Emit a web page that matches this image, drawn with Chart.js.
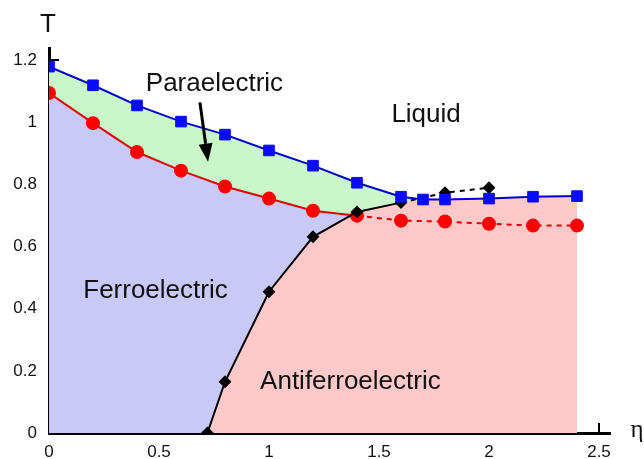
<!DOCTYPE html>
<html>
<head>
<meta charset="utf-8">
<script src="https://cdn.jsdelivr.net/npm/chart.js@4"></script>
<style>
  html, body { margin: 0; padding: 0; background: #fff; }
  #wrap { width: 644px; height: 459px; }
</style>
</head>
<body>
<div id="wrap"><canvas id="myChart" width="644" height="459"></canvas></div>
<script>
// liquid / paraelectric boundary (blue squares)
const etaBlue = [0, 0.2, 0.4, 0.6, 0.8, 1.0, 1.2, 1.4, 1.6, 1.7, 1.8, 2.0, 2.2, 2.4];
const tBlue = [1.18, 1.12, 1.055, 1.003, 0.961, 0.91, 0.861, 0.806, 0.761, 0.752, 0.752, 0.755, 0.761, 0.763];

// ferroelectric boundary (red circles), dashed past 1.4
const etaRed = [0, 0.2, 0.4, 0.6, 0.8, 1.0, 1.2, 1.4, 1.6, 1.8, 2.0, 2.2, 2.4];
const tRed = [1.095, 0.998, 0.905, 0.845, 0.794, 0.755, 0.716, 0.70, 0.684, 0.681, 0.674, 0.668, 0.668];

// ferro / antiferro boundary (black diamonds), dashed past 1.6
const etaBlack = [0.72, 0.8, 1.0, 1.2, 1.4, 1.6, 1.8, 2.0];
const tBlack = [0, 0.165, 0.455, 0.632, 0.712, 0.742, 0.774, 0.79];

const xTickLabels = ['0', '0.5', '1', '1.5', '2', '2.5'];
const yTickLabels = ['0', '0.2', '0.4', '0.6', '0.8', '1', '1.2'];

const regionNames = ['Paraelectric', 'Liquid', 'Ferroelectric', 'Antiferroelectric'];

const pts = (xs, ys) => xs.map((x, i) => ({ x: x, y: ys[i] }));

// filled regions built from the boundaries above
const redSolidEnd = etaRed.indexOf(1.4) + 1;
const blackSolidEnd = etaBlack.indexOf(1.6) + 1;
const blueAfter = etaBlue.indexOf(1.7);
const pinkArea = pts(etaBlack.slice(0, blackSolidEnd), tBlack.slice(0, blackSolidEnd))
  .concat(pts(etaBlue.slice(blueAfter), tBlue.slice(blueAfter)));
const purpleArea = pts(etaRed.slice(0, redSolidEnd), tRed.slice(0, redSolidEnd));
const greenArea = pts(etaBlue, tBlue);

const dashAfter = (limit) => ({
  borderDash: ctx => ctx.p0.parsed.x >= limit - 1e-9 ? [5, 5] : undefined
});

const fillSet = (data, color) => ({
  data: data,
  fill: 'origin',
  backgroundColor: color,
  borderWidth: 0,
  pointRadius: 0,
  tension: 0
});

const textPlugin = {
  id: 'textPlugin',
  afterDatasetsDraw(chart) {
    const { ctx, chartArea, scales: { x, y } } = chart;
    ctx.save();
    ctx.fillStyle = '#111';
    ctx.textAlign = 'center';
    ctx.textBaseline = 'alphabetic';
    ctx.font = '26px "Liberation Sans", Arial, sans-serif';
    const anchors = [[0.752, 1.103], [1.714, 1.003], [0.484, 0.435], [1.37, 0.142]];
    regionNames.forEach((name, i) => {
      ctx.fillText(name, x.getPixelForValue(anchors[i][0]), y.getPixelForValue(anchors[i][1]));
    });

    // axis names
    ctx.fillText('T', chartArea.left - 1, 32);
    ctx.font = '25px "Liberation Serif", "Times New Roman", serif';
    ctx.fillText('η', chartArea.right + 27, chartArea.bottom + 4);

    // arrow pointing into the paraelectric band
    const x0 = x.getPixelForValue(0.686), y0 = y.getPixelForValue(1.065);
    const x1 = x.getPixelForValue(0.723), y1 = y.getPixelForValue(0.874);
    const ang = Math.atan2(y1 - y0, x1 - x0);
    const head = 18, half = 7;
    const bx = x1 - head * Math.cos(ang), by = y1 - head * Math.sin(ang);
    ctx.strokeStyle = '#000';
    ctx.lineWidth = 3;
    ctx.beginPath();
    ctx.moveTo(x0, y0);
    ctx.lineTo(bx, by);
    ctx.stroke();
    ctx.fillStyle = '#000';
    ctx.beginPath();
    ctx.moveTo(x1, y1);
    ctx.lineTo(bx + half * Math.sin(ang), by - half * Math.cos(ang));
    ctx.lineTo(bx - half * Math.sin(ang), by + half * Math.cos(ang));
    ctx.closePath();
    ctx.fill();
    ctx.restore();
  }
};

const ctx = document.getElementById('myChart').getContext('2d');
const myChart = new Chart(ctx, {
  type: 'line',
  data: {
    datasets: [
      {
        data: pts(etaBlue, tBlue),
        borderColor: '#0000cc',
        borderWidth: 2,
        pointStyle: 'rect',
        pointRadius: 7.5,
        pointBackgroundColor: '#0a0aff',
        pointBorderColor: '#0a0aff',
        pointBorderWidth: 1,
        fill: false,
        tension: 0
      },
      {
        data: pts(etaBlack, tBlack),
        borderColor: '#000',
        borderWidth: 2,
        pointStyle: 'rectRot',
        pointRadius: 5,
        pointBackgroundColor: '#000',
        pointBorderColor: '#000',
        fill: false,
        tension: 0,
        segment: dashAfter(1.6)
      },
      {
        data: pts(etaRed, tRed),
        borderColor: '#e00000',
        borderWidth: 2,
        pointStyle: 'circle',
        pointRadius: 6,
        pointBackgroundColor: '#ff0000',
        pointBorderColor: '#ff0000',
        fill: false,
        tension: 0,
        segment: dashAfter(1.4)
      },
      fillSet(pinkArea, '#ffc9c9'),
      fillSet(purpleArea, '#c9c9f8'),
      fillSet(greenArea, '#c9f7c9')
    ]
  },
  options: {
    responsive: false,
    animation: false,
    events: [],
    layout: { padding: { top: 48, right: 34, left: 0, bottom: 0 } },
    scales: {
      x: {
        type: 'linear',
        min: 0,
        max: 2.55,
        afterFit: scale => { scale.height = 26; },
        border: { display: true, color: '#000', width: 3 },
        grid: { drawOnChartArea: false, drawTicks: true, tickLength: -10, color: '#000', lineWidth: 2 },
        ticks: {
          stepSize: 0.5,
          includeBounds: false,
          padding: 19,
          color: '#111',
          font: { family: '"Liberation Sans", Arial, sans-serif', size: 17 },
          maxRotation: 0,
          callback: (v, i) => xTickLabels[i]
        }
      },
      y: {
        type: 'linear',
        min: 0,
        max: 1.24,
        afterFit: scale => {
          scale.width = 49;
          scale.paddingTop = 0;
          scale.paddingBottom = 0;
        },
        border: { display: true, color: '#000', width: 3 },
        grid: { drawOnChartArea: false, drawTicks: true, tickLength: -10, color: '#000', lineWidth: 2 },
        ticks: {
          stepSize: 0.2,
          includeBounds: false,
          padding: 22,
          color: '#111',
          font: { family: '"Liberation Sans", Arial, sans-serif', size: 17 },
          callback: (v, i) => yTickLabels[i]
        }
      }
    },
    plugins: {
      legend: { display: false },
      tooltip: { enabled: false },
      filler: { drawTime: 'beforeDatasetsDraw' }
    }
  },
  plugins: [textPlugin]
});
</script>
</body>
</html>
